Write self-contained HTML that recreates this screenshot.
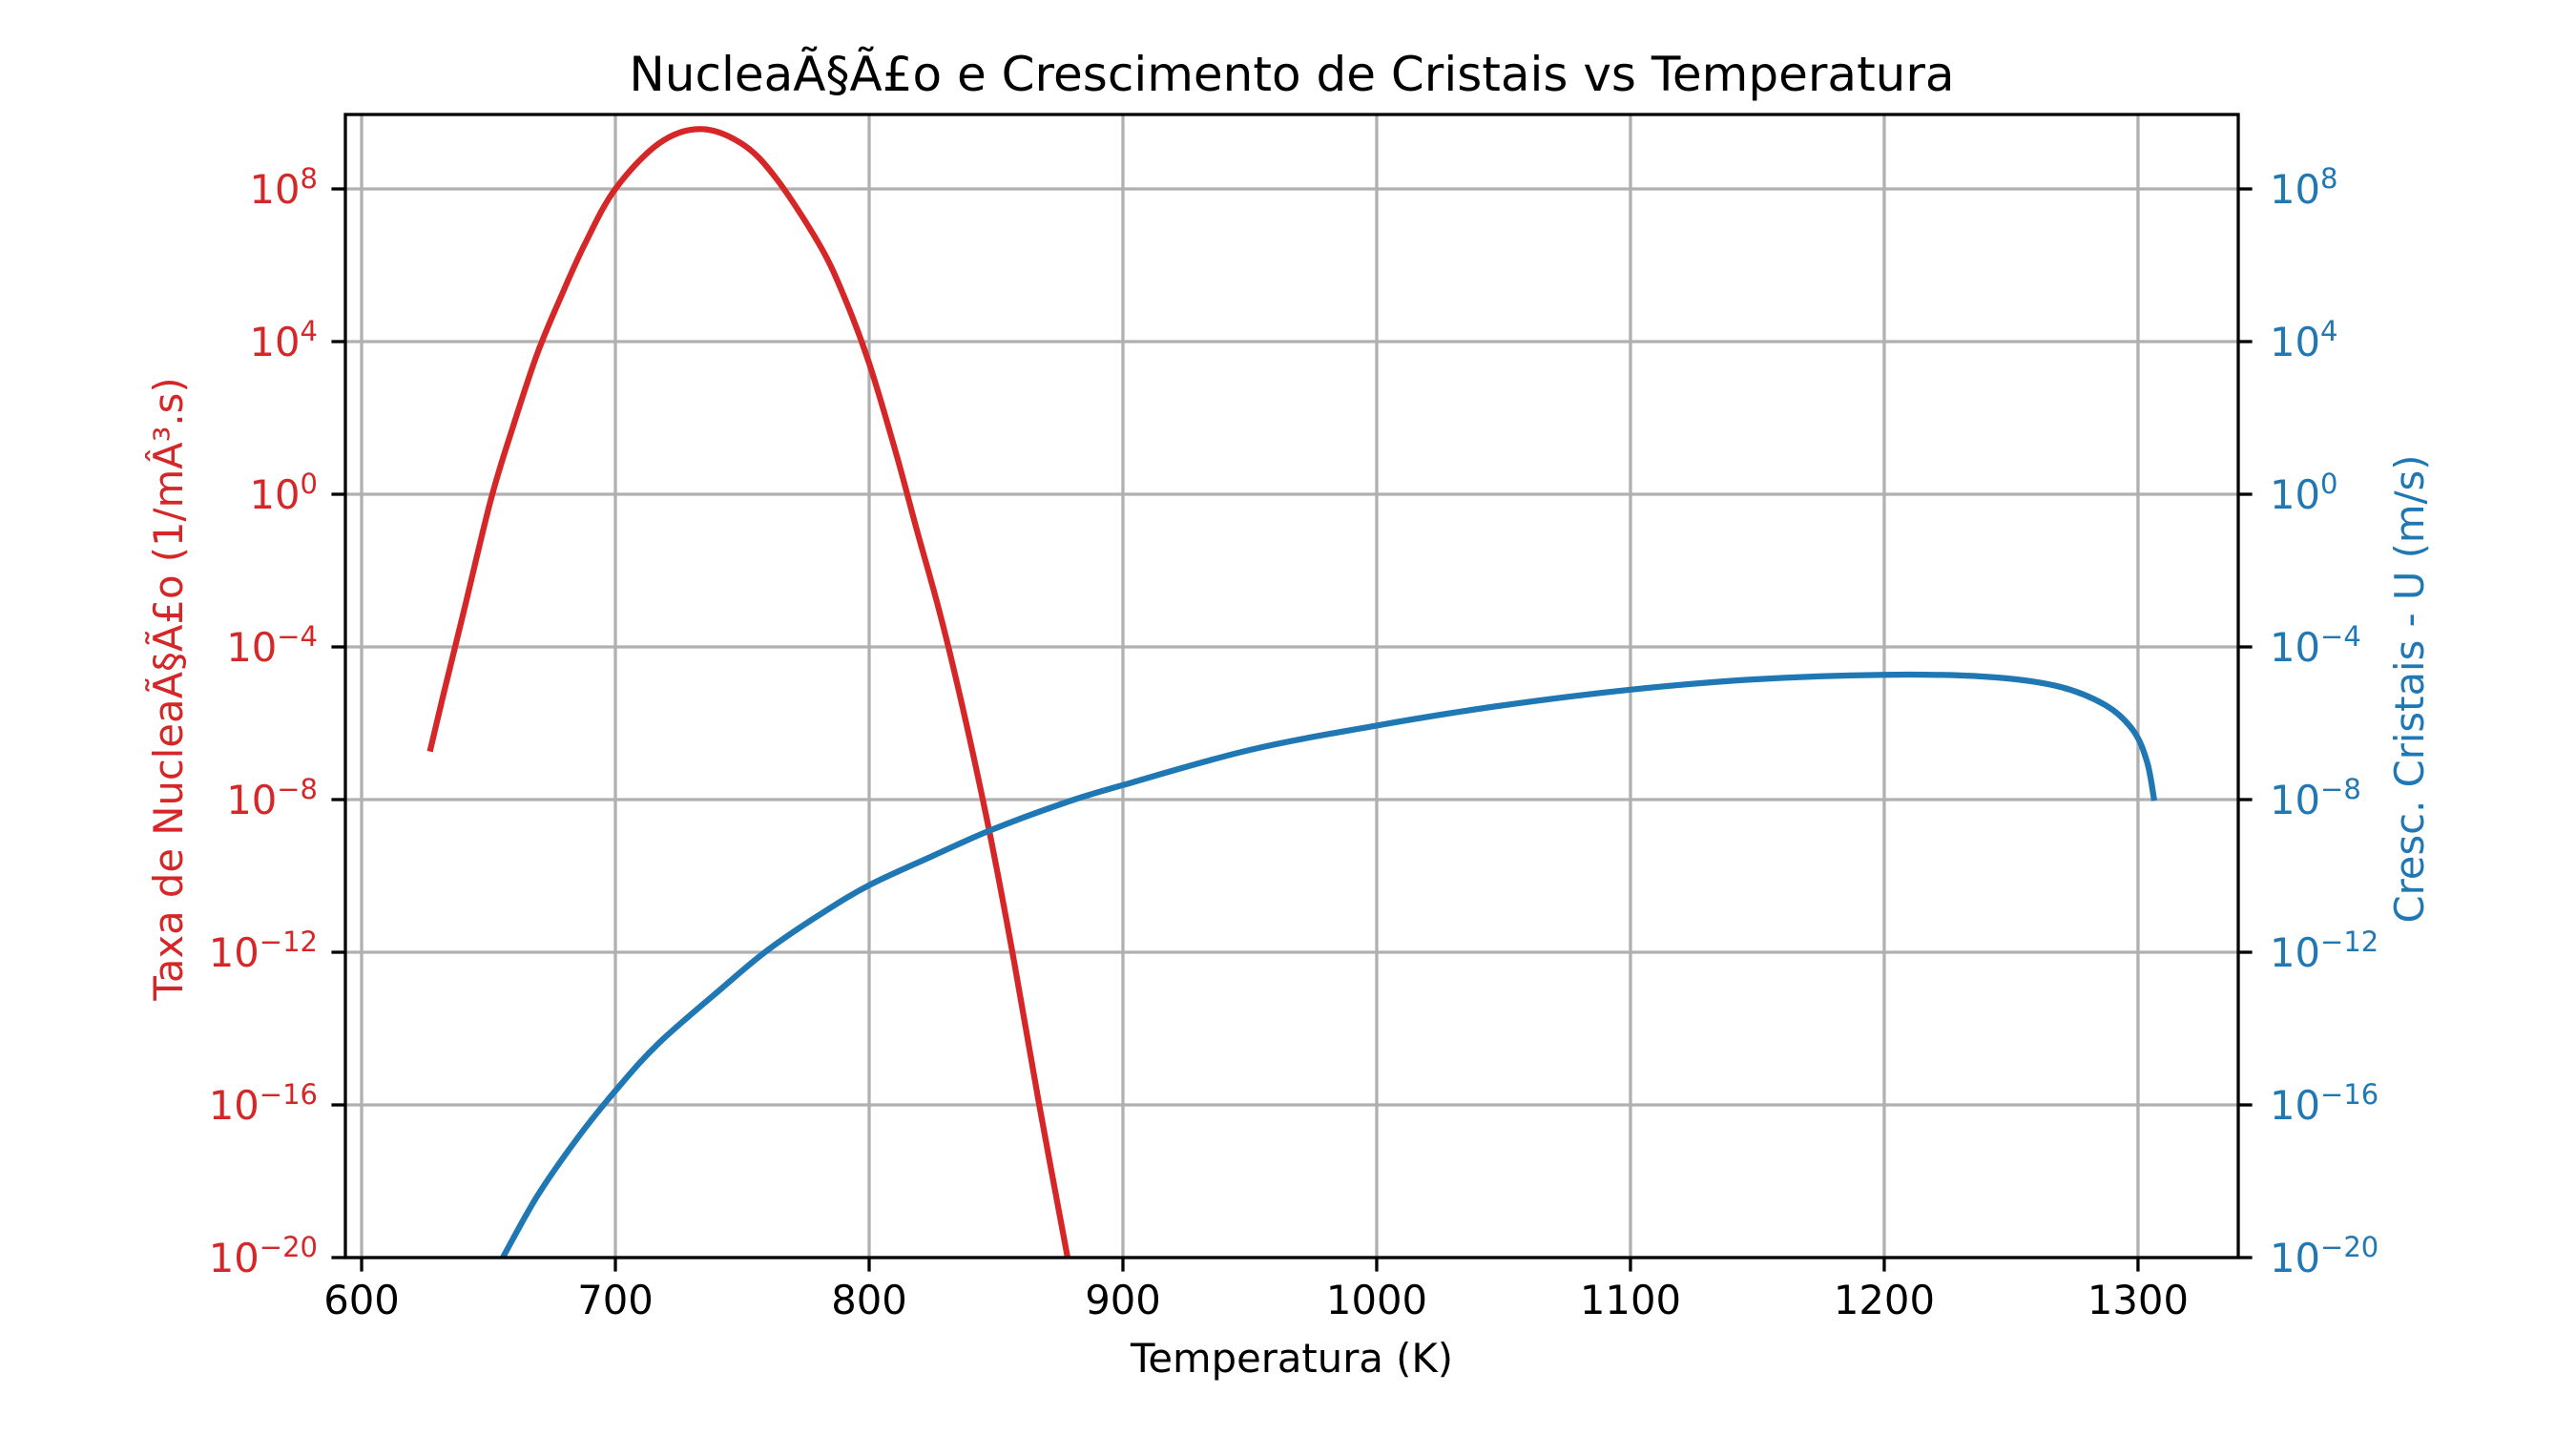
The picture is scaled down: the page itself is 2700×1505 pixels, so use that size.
<!DOCTYPE html>
<html><head><meta charset="utf-8"><style>
html,body{margin:0;padding:0;background:#fff;}
svg text{font-family:"DejaVu Sans","Liberation Sans",sans-serif;}
</style></head><body>
<svg id="chart" width="2700" height="1500" viewBox="0 0 2700 1500" xmlns="http://www.w3.org/2000/svg">
<rect x="0" y="0" width="2700" height="1500" fill="#fff"/>
<g id="grid"></g>
<g id="series"></g>
<g id="axes"></g>
<text x="1354" y="95" font-size="50" text-anchor="middle" fill="#000">NucleaÃ§Ã£o e Crescimento de Cristais vs Temperatura</text>
<text x="1354" y="1438" font-size="41.7" text-anchor="middle" fill="#000">Temperatura (K)</text>
<text transform="translate(191,722) rotate(-90)" font-size="41.7" text-anchor="middle" fill="#d62728">Taxa de NucleaÃ§Ã£o (1/mÂ³.s)</text>
<text transform="translate(2540,722) rotate(-90)" font-size="41.7" text-anchor="middle" fill="#1f77b4">Cresc. Cristais - U (m/s)</text>
</svg>
<script>
const xTicks = [600,700,800,900,1000,1100,1200,1300];
const yTickExps = [8,4,0,-4,-8,-12,-16,-20];
const nucTemps = [626.9,631.7,640.3,650.9,659.5,669.1,678.7,688.3,700,717.1,733.4,749.7,763.1,780.4,790,799.8,810.2,818.8,828.4,838,847.6,857.2,866.8,878.3];
const nucLog = [-6.74,-5.4,-3.06,-0.15,1.74,3.66,5.20,6.6,8,9.19,9.57,9.19,8.3,6.54,5.2,3.47,1.17,-0.94,-3.25,-5.93,-8.91,-12.27,-15.92,-20.04];
const growTemps = [655.3,669.1,684.5,700,717.1,742,759.3,780.4,799.8,824.6,847.6,876.4,900,950,1000,1046.7,1100,1148.9,1200,1240,1267.7,1287,1298,1303.6,1306.4];
const growLog = [-20.04,-18.4,-16.92,-15.63,-14.38,-12.94,-11.98,-11.02,-10.25,-9.49,-8.81,-8.1,-7.62,-6.7,-6.06,-5.56,-5.12,-4.85,-4.73,-4.78,-5.02,-5.52,-6.18,-7.02,-8.03];

const L=362,R=2346,T=120,B=1318;
const xMin=593.6,xMax=1339.5,yMin=-20,yMax=9.95;
function sx(v){return L+(v-xMin)/(xMax-xMin)*(R-L);}
function sy(e){return B-(e-yMin)/(yMax-yMin)*(B-T);}
const NS="http://www.w3.org/2000/svg";
function mk(tag,attrs,parent){const e=document.createElementNS(NS,tag);for(const k in attrs)e.setAttribute(k,attrs[k]);parent.appendChild(e);return e;}
const grid=document.getElementById('grid'),axes=document.getElementById('axes'),series=document.getElementById('series');

xTicks.forEach(t=>{
  const x=sx(t);
  const g=mk('line',{x1:x,x2:x,y1:T,y2:B,stroke:'#b0b0b0','stroke-width':3.3},grid);
  
  
  const tk=mk('line',{x1:x,x2:x,y1:B,y2:B+14.6,stroke:'#000','stroke-width':3.3},axes);
  
  
  const lb=mk('text',{x:x,y:1377,'font-size':41.7,'text-anchor':'middle',fill:'#000'},axes);
  lb.textContent=String(t);
  
  
});
yTickExps.forEach(e=>{
  const y=sy(e);
  const g=mk('line',{x1:L,x2:R,y1:y,y2:y,stroke:'#b0b0b0','stroke-width':3.3},grid);
  
  
  [[L,L-14.6,'#d62728',333,'end','left'],[R,R+14.6,'#1f77b4',2379,'start','right']].forEach(s=>{
    const tk=mk('line',{x1:s[0],x2:s[1],y1:y,y2:y,stroke:'#000','stroke-width':3.3},axes);
    
    
    const lb=mk('text',{x:s[3],y:y+15,'font-size':41.7,'text-anchor':s[4],fill:s[2]},axes);
    
    
    const a=mk('tspan',{},lb);a.textContent='10';
    const b=mk('tspan',{dy:-16,'font-size':29},lb);b.textContent=(e<0?'\u2212':'')+Math.abs(e);
  });
});
function drawLine(xs,ys,color,name){
  const P=xs.map((v,i)=>[sx(v),sy(ys[i])]);
  let d='M'+P[0][0].toFixed(1)+','+P[0][1].toFixed(1);
  for(let i=0;i<P.length-1;i++){
    const p0=P[Math.max(i-1,0)],p1=P[i],p2=P[i+1],p3=P[Math.min(i+2,P.length-1)];
    const c1=[p1[0]+(p2[0]-p0[0])/6,p1[1]+(p2[1]-p0[1])/6];
    const c2=[p2[0]-(p3[0]-p1[0])/6,p2[1]-(p3[1]-p1[1])/6];
    d+=' C'+c1.map(v=>v.toFixed(1)).join(',')+' '+c2.map(v=>v.toFixed(1)).join(',')+' '+p2.map(v=>v.toFixed(1)).join(',');
  }
  const p=mk('path',{d:d,fill:'none',stroke:color,'stroke-width':6.25,'stroke-linejoin':'round','clip-path':'url(#clip)'},series);
  
  
}
const defs=mk('defs',{},document.getElementById('chart'));
const cp=mk('clipPath',{id:'clip'},defs);
mk('rect',{x:L,y:T,width:R-L,height:B-T},cp);
drawLine(nucTemps,nucLog,'#d62728','nucleation-rate-line');
drawLine(growTemps,growLog,'#1f77b4','crystal-growth-line');
const fr=mk('rect',{x:L,y:T,width:R-L,height:B-T,fill:'none',stroke:'#000','stroke-width':3.3},axes);


</script>
</body></html>
